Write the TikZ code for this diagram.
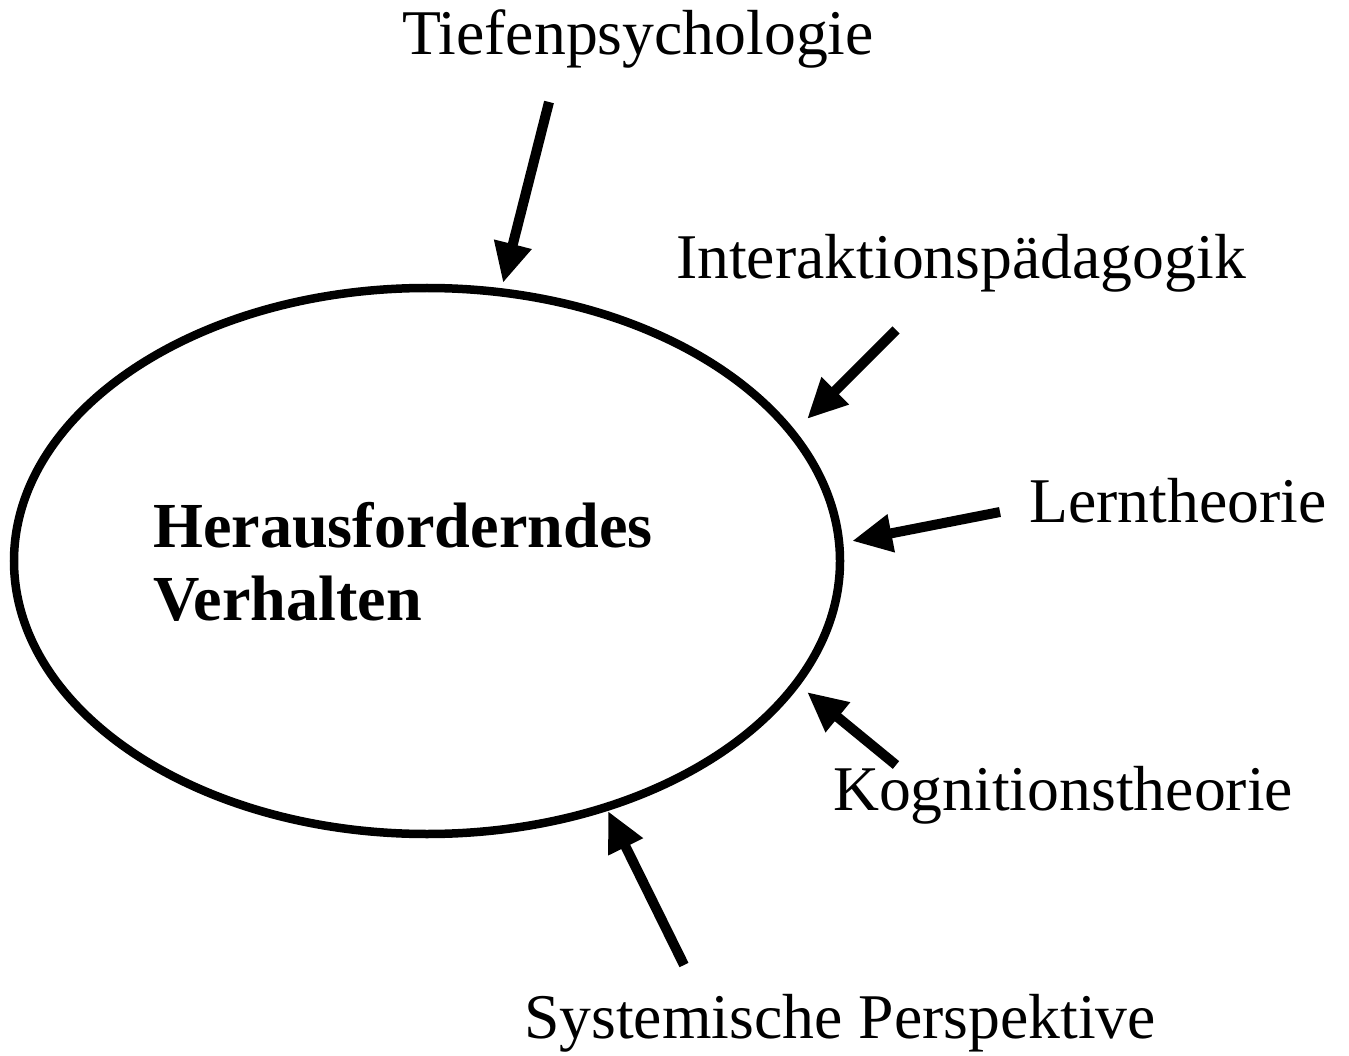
\documentclass[tikz,border=0pt]{standalone}
\usepackage{fontspec}
\setmainfont{Liberation Serif}
\usetikzlibrary{arrows.meta,shapes.geometric}
\begin{document}
\begin{tikzpicture}[x=1pt,y=-1pt,
  lbl/.style={inner sep=0pt,anchor=base,font=\fontsize{63.7}{72}\selectfont},
  infl/.style={line width=10pt,-{Triangle[length=40pt,width=36pt]}},
  circ/.style={draw,line width=8.5pt,ellipse,inner sep=0pt,minimum width=826pt,minimum height=546pt}]
\useasboundingbox (0,0) rectangle (1349,1056);
\node[circ] (core) at (427,561) {};
\node[lbl,anchor=base west,font=\fontsize{64.2}{72}\selectfont\bfseries] (hv1) at (153,547) {Herausforderndes};
\node[lbl,anchor=base west,font=\fontsize{64.2}{72}\selectfont\bfseries] (hv2) at (153,620) {Verhalten};
\node[lbl] (tp) at (638,55) {Tiefenpsychologie};
\node[lbl] (ip) at (961,279) {Interaktionspädagogik};
\node[lbl] (lt) at (1178,522) {Lerntheorie};
\node[lbl] (kt) at (1063,810) {Kognitionstheorie};
\node[lbl] (sp) at (840,1038) {Systemische Perspektive};
\coordinate (a1s) at (549,102); \coordinate (a1e) at (503,283);
\coordinate (a2s) at (896,330); \coordinate (a2e) at (807,419);
\coordinate (a3s) at (1000,512); \coordinate (a3e) at (852,541);
\coordinate (a4s) at (896,765); \coordinate (a4e) at (807,692);
\coordinate (a5s) at (684,965); \coordinate (a5e) at (608,811);
\draw[infl] (a1s) -- (a1e);
\draw[infl] (a2s) -- (a2e);
\draw[infl] (a3s) -- (a3e);
\draw[infl] (a4s) -- (a4e);
\draw[infl] (a5s) -- (a5e);
\end{tikzpicture}
\end{document}
